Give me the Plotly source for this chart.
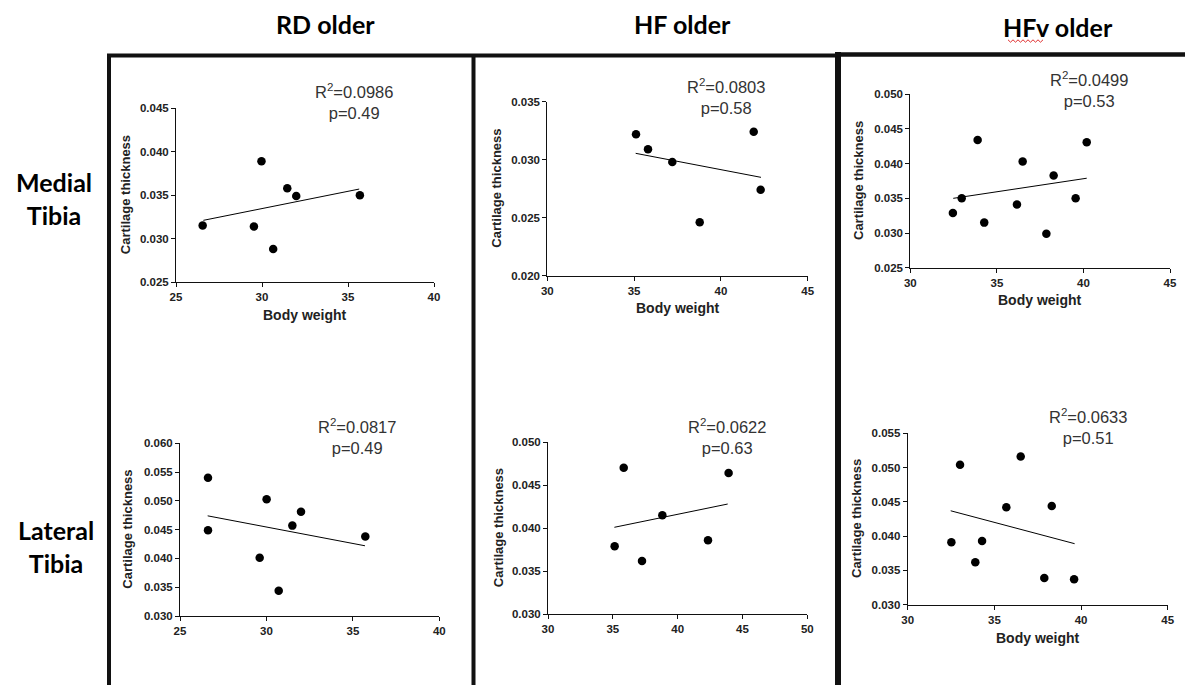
import plotly.graph_objects as go

W, H = 1193, 685
OFF = 8            # the page body adds an 8px margin; draw in page pixels
FW, FH = W - OFF, H - OFF

# ---------------- data ----------------
col_titles = ["RD older", "HF older", "HFv older"]
row_titles = ["Medial<br>Tibia", "Lateral<br>Tibia"]

rd_med_bw = [26.55, 29.53, 29.97, 30.65, 31.47, 31.99, 35.69]
rd_med_ct = [0.0315, 0.0314, 0.0389, 0.0288, 0.0358, 0.0349, 0.0350]
rd_med_fit_x = [26.59, 35.65]
rd_med_fit_y = [0.0321, 0.0357]
rd_med_stats = ["0.0986", "0.49"]

hf_med_bw = [35.11, 35.80, 37.20, 38.78, 41.89, 42.29]
hf_med_ct = [0.0322, 0.0309, 0.0298, 0.0246, 0.0324, 0.0274]
hf_med_fit_x = [35.09, 42.31]
hf_med_fit_y = [0.03055, 0.02848]
hf_med_stats = ["0.0803", "0.58"]

hfv_med_bw = [32.46, 32.97, 33.89, 34.27, 36.16, 36.49, 37.86, 38.28, 39.55, 40.19]
hfv_med_ct = [0.0329, 0.0350, 0.0434, 0.0315, 0.0341, 0.0403, 0.0299, 0.0383, 0.0350, 0.0431]
hfv_med_fit_x = [32.48, 40.19]
hfv_med_fit_y = [0.0350, 0.0379]
hfv_med_stats = ["0.0499", "0.53"]

rd_lat_bw = [26.62, 26.62, 29.61, 30.01, 30.71, 31.50, 32.00, 35.72]
rd_lat_ct = [0.0540, 0.0449, 0.0401, 0.0503, 0.0344, 0.0457, 0.0481, 0.0438]
rd_lat_fit_x = [26.60, 35.70]
rd_lat_fit_y = [0.0474, 0.0422]
rd_lat_stats = ["0.0817", "0.49"]

hf_lat_bw = [35.14, 35.84, 37.25, 38.82, 42.34, 43.93]
hf_lat_ct = [0.0379, 0.0470, 0.0362, 0.0415, 0.0386, 0.0464]
hf_lat_fit_x = [35.12, 43.86]
hf_lat_fit_y = [0.0401, 0.0428]
hf_lat_stats = ["0.0622", "0.63"]

hfv_lat_bw = [32.52, 33.02, 33.90, 34.29, 35.69, 36.52, 37.88, 38.31, 39.60]
hfv_lat_ct = [0.0391, 0.0504, 0.0362, 0.0393, 0.0442, 0.0516, 0.0339, 0.0444, 0.0337]
hfv_lat_fit_x = [32.48, 39.63]
hfv_lat_fit_y = [0.0437, 0.0389]
hfv_lat_stats = ["0.0633", "0.51"]

x_title = "Body weight"
y_title = "Cartilage thickness"

# ---------------- layout (page pixel positions) ----------------
panels = [
    dict(bw=rd_med_bw, ct=rd_med_ct, fx=rd_med_fit_x, fy=rd_med_fit_y, st=rd_med_stats,
         px=(176, 434), py=(108.3, 282), xr=[25, 40], yr=[0.025, 0.045],
         ann=(354, 102), ytx=125, xty=315),
    dict(bw=hf_med_bw, ct=hf_med_ct, fx=hf_med_fit_x, fy=hf_med_fit_y, st=hf_med_stats,
         px=(547.3, 807.7), py=(101.7, 275.7), xr=[30, 45], yr=[0.020, 0.035],
         ann=(726, 97), ytx=497, xty=308),
    dict(bw=hfv_med_bw, ct=hfv_med_ct, fx=hfv_med_fit_x, fy=hfv_med_fit_y, st=hfv_med_stats,
         px=(910.3, 1170), py=(94.3, 267.7), xr=[30, 45], yr=[0.025, 0.050],
         ann=(1089, 89.5), ytx=858, xty=300),
    dict(bw=rd_lat_bw, ct=rd_lat_ct, fx=rd_lat_fit_x, fy=rd_lat_fit_y, st=rd_lat_stats,
         px=(180, 439.3), py=(443.3, 616), xr=[25, 40], yr=[0.030, 0.060],
         ann=(357, 436), ytx=128, xty=None),
    dict(bw=hf_lat_bw, ct=hf_lat_ct, fx=hf_lat_fit_x, fy=hf_lat_fit_y, st=hf_lat_stats,
         px=(548, 807.3), py=(442, 614.3), xr=[30, 50], yr=[0.030, 0.050],
         ann=(727, 436.5), ytx=498, xty=None),
    dict(bw=hfv_lat_bw, ct=hfv_lat_ct, fx=hfv_lat_fit_x, fy=hfv_lat_fit_y, st=hfv_lat_stats,
         px=(907.7, 1167.7), py=(433.3, 604.7), xr=[30, 45], yr=[0.030, 0.055],
         ann=(1088, 426), ytx=857, xty=638),
]


def fx(p):
    return (p - OFF) / FW


def fy(p):
    return 1 - (p - OFF) / FH


fig = go.Figure()
layout_axes = {}
annotations = []
tick_font = dict(family="Liberation Sans, Arial", size=11.5, color="#222222", weight="bold")

for i, p in enumerate(panels, start=1):
    xa = "x" if i == 1 else f"x{i}"
    ya = "y" if i == 1 else f"y{i}"
    fig.add_trace(go.Scatter(x=p["bw"], y=p["ct"], mode="markers", xaxis=xa, yaxis=ya,
                             marker=dict(color="black", size=8.5, line=dict(width=0)),
                             showlegend=False, cliponaxis=False))
    fig.add_trace(go.Scatter(x=p["fx"], y=p["fy"], mode="lines", xaxis=xa, yaxis=ya,
                             line=dict(color="black", width=1), showlegend=False))
    axis_common = dict(showgrid=False, zeroline=False, showline=True, linecolor="#111111",
                       linewidth=1, ticks="outside", ticklen=4, tickwidth=1, tickcolor="#111111",
                       tickfont=tick_font, automargin=False)
    layout_axes["xaxis" if i == 1 else f"xaxis{i}"] = dict(
        domain=[fx(p["px"][0]), fx(p["px"][1])], range=p["xr"], dtick=5, tick0=0,
        anchor=ya, **axis_common)
    layout_axes["yaxis" if i == 1 else f"yaxis{i}"] = dict(
        domain=[fy(p["py"][1]), fy(p["py"][0])], range=p["yr"], dtick=0.005, tick0=0,
        tickformat=".3f", anchor=xa, **axis_common)
    # stats annotation
    annotations.append(dict(
        x=fx(p["ann"][0]), y=fy(p["ann"][1]), xref="paper", yref="paper",
        text=f"R<sup>2</sup>={p['st'][0]}<br>p={p['st'][1]}", showarrow=False,
        xanchor="center", yanchor="middle", align="center",
        font=dict(family="Liberation Sans, Arial", size=16.5, color="#333333")))
    # y title
    annotations.append(dict(
        x=fx(p["ytx"]), y=fy((p["py"][0] + p["py"][1]) / 2), xref="paper", yref="paper",
        text=y_title, textangle=-90, showarrow=False, xanchor="center", yanchor="middle",
        font=dict(family="Liberation Sans, Arial", size=13, color="#222222", weight="bold")))
    if p["xty"] is not None:
        annotations.append(dict(
            x=fx((p["px"][0] + p["px"][1]) / 2), y=fy(p["xty"]), xref="paper", yref="paper",
            text=x_title, showarrow=False, xanchor="center", yanchor="middle",
            font=dict(family="Liberation Sans, Arial", size=14, color="#222222", weight="bold")))

# column and row titles
title_font = dict(family="Lato, Open Sans", size=25, color="black", weight="bold")
for t, (cx, cy) in zip(col_titles, [(325, 24), (682, 24), (1058, 27)]):
    annotations.append(dict(x=fx(cx), y=fy(cy), xref="paper", yref="paper", text=t,
                            showarrow=False, xanchor="center", yanchor="middle", font=title_font))
for t, (cx, cy) in zip(row_titles, [(54, 199), (56, 546)]):
    annotations.append(dict(x=fx(cx), y=fy(cy), xref="paper", yref="paper", text=t,
                            showarrow=False, xanchor="center", yanchor="middle", align="center",
                            font=title_font))

# frame lines
shapes = []
frame = [
    (109, 55.5, 109, 685, 4),
    (107, 55.5, 836, 55.5, 4),
    (473.5, 55.5, 473.5, 685, 4),
    (838, 52, 838, 685, 6),
    (835, 54.5, 1193, 54.5, 4.5),
]
for x0, y0, x1, y1, w in frame:
    shapes.append(dict(type="line", xref="paper", yref="paper", x0=fx(x0), y0=fy(y0),
                       x1=fx(x1), y1=fy(y1), line=dict(color="#111111", width=w)))

# red spell-check squiggle under "HFv"
zig = "M " + " L ".join(
    f"{fx(1008 + k * 2.5)},{fy(41 + (1.2 if k % 2 else -1.2))}" for k in range(15))
shapes.append(dict(type="path", xref="paper", yref="paper", path=zig,
                   line=dict(color="#e03030", width=1)))

fig.update_layout(template="none", width=FW, height=FH,
                  margin=dict(l=0, r=0, t=0, b=0, pad=0, autoexpand=False),
                  paper_bgcolor="white", plot_bgcolor="white", showlegend=False,
                  annotations=annotations, shapes=shapes, **layout_axes)

fig.write_html("out.html")
